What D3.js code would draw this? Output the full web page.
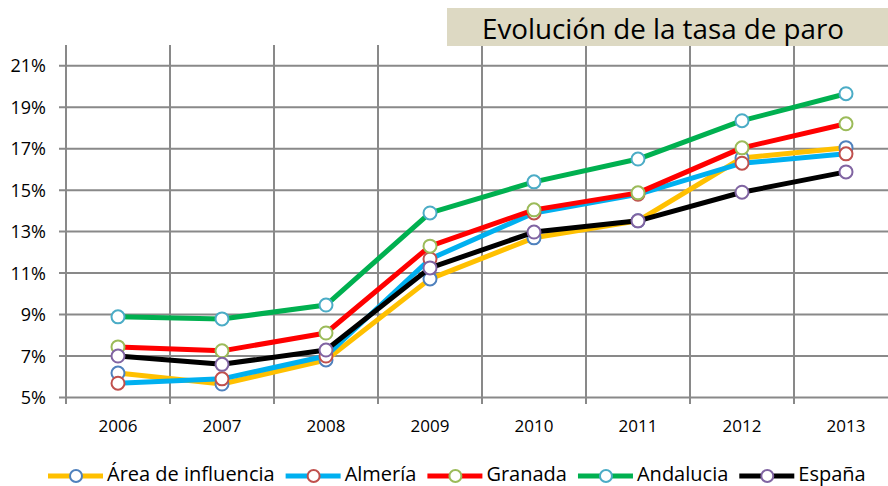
<!DOCTYPE html>
<html>
<head>
<meta charset="utf-8">
<script src="https://d3js.org/d3.v7.min.js"></script>
<style>
  body { margin: 0; background: #fff; }
  text { font-family: "Open Sans", sans-serif; fill: #000; }
</style>
</head>
<body>
<svg width="888" height="486"></svg>
<script>
// datos
var years = ["2006", "2007", "2008", "2009", "2010", "2011", "2012", "2013"];
var yTicks = [5, 7, 9, 11, 13, 15, 17, 19, 21];

var area      = [6.18, 5.65, 6.81, 10.72, 12.70, 13.52, 16.55, 17.05];
var almeria   = [5.69, 5.90, 7.00, 11.68, 13.90, 14.80, 16.30, 16.75];
var granada   = [7.44, 7.25, 8.11, 12.30, 14.05, 14.87, 17.04, 18.20];
var andalucia = [8.89, 8.79, 9.46, 13.90, 15.40, 16.50, 18.35, 19.65];
var espana    = [7.00, 6.60, 7.29, 11.25, 12.98, 13.52, 14.90, 15.88];

var series = [
  {name: "Área de influencia", values: area,      line: "#ffc000", mark: "#4f81bd"},
  {name: "Almería",            values: almeria,   line: "#00b0f0", mark: "#c0504d"},
  {name: "Granada",            values: granada,   line: "#ff0000", mark: "#9bbb59"},
  {name: "Andalucia",          values: andalucia, line: "#00b050", mark: "#4bacc6"},
  {name: "España",             values: espana,    line: "#000000", mark: "#8064a2"}
];

var svg = d3.select("svg");

var x = d3.scaleBand().domain(years).range([66, 898]).padding(0);
var y = d3.scaleLinear().domain([5, 22]).range([397.5, 45]);
var gridColor = "#898989";

var grid = svg.append("g");

// horizontal grid + y ticks
grid.selectAll("line.h")
  .data(yTicks)
  .enter().append("line")
  .attr("class", "h")
  .attr("x1", 59).attr("x2", 898)
  .attr("y1", d => y(d)).attr("y2", d => y(d))
  .attr("stroke", gridColor).attr("stroke-width", 2);

// vertical grid (category boundaries)
var bounds = years.map(d => x(d)).concat([x.range()[1]]);
grid.selectAll("line.v")
  .data(bounds)
  .enter().append("line")
  .attr("class", "v")
  .attr("x1", d => d).attr("x2", d => d)
  .attr("y1", 45).attr("y2", 404)
  .attr("stroke", gridColor).attr("stroke-width", 2);

// y labels
svg.append("g").selectAll("text")
  .data(yTicks)
  .enter().append("text")
  .attr("x", 46)
  .attr("y", d => y(d))
  .attr("dy", "0.36em")
  .attr("text-anchor", "end")
  .style("font-size", "18px")
  .text(d => d + "%");

// x labels
svg.append("g").selectAll("text")
  .data(years)
  .enter().append("text")
  .attr("x", d => x(d) + x.bandwidth() / 2)
  .attr("y", 432)
  .attr("text-anchor", "middle")
  .style("font-size", "17px")
  .text(d => d);

var line = d3.line()
  .x((d, i) => x(years[i]) + x.bandwidth() / 2)
  .y(d => y(d));

series.forEach(function(s) {
  var g = svg.append("g");
  g.append("path")
    .attr("d", line(s.values))
    .attr("fill", "none")
    .attr("stroke", s.line)
    .attr("stroke-width", 5)
    .attr("stroke-linejoin", "round");
  g.selectAll("circle")
    .data(s.values)
    .enter().append("circle")
    .attr("cx", (d, i) => x(years[i]) + x.bandwidth() / 2)
    .attr("cy", d => y(d))
    .attr("r", 6.5)
    .attr("fill", "#fff")
    .attr("stroke", s.mark)
    .attr("stroke-width", 2);
});

// title box
svg.append("rect")
  .attr("x", 447).attr("y", 8)
  .attr("width", 450).attr("height", 38)
  .attr("fill", "#ddd9c3");
svg.append("text")
  .attr("x", 663).attr("y", 39)
  .attr("text-anchor", "middle")
  .attr("textLength", 362)
  .attr("lengthAdjust", "spacingAndGlyphs")
  .style("font-size", "28px")
  .text("Evolución de la tasa de paro");

// legend
var legend = svg.append("g");
var lx = 48, ly = 476;
series.forEach(function(s) {
  var it = legend.append("g").attr("transform", "translate(" + lx + "," + ly + ")");
  it.append("line")
    .attr("x1", 0).attr("x2", 55)
    .attr("stroke", s.line).attr("stroke-width", 5);
  it.append("circle")
    .attr("cx", 28).attr("r", 6)
    .attr("fill", "#fff")
    .attr("stroke", s.mark).attr("stroke-width", 2);
  var t = it.append("text")
    .attr("x", 59).attr("y", 5)
    .style("font-size", "20px")
    .text(s.name);
  var w = t.node().getComputedTextLength();
  lx += 59 + w + 11;
});
</script>
</body>
</html>
